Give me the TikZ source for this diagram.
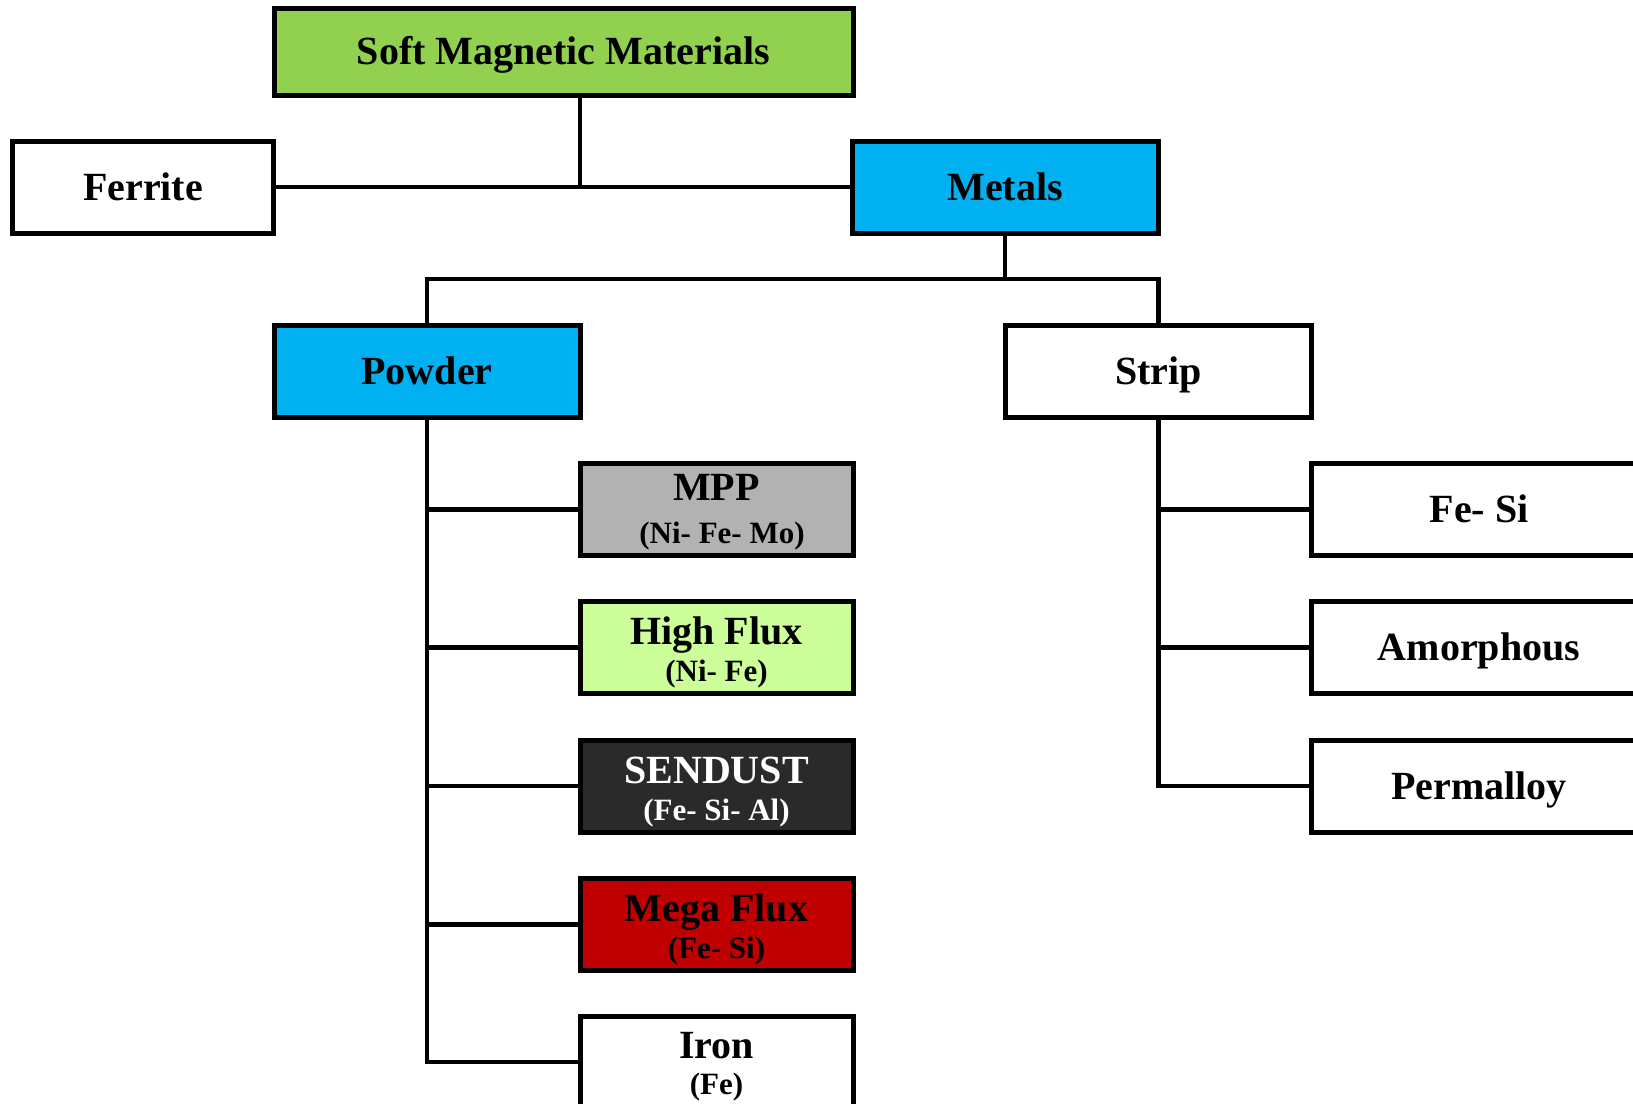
\documentclass[tikz,border=0pt]{standalone}
\usepackage{fontspec}
\setmainfont{Liberation Serif}
\begin{document}
\begin{tikzpicture}[x=1pt,y=-1pt,
  box/.style={draw=black,line width=5pt,inner sep=0pt,minimum height=92pt,
    font=\fontsize{40}{40}\selectfont\bfseries,text height=26pt,text depth=0pt},
  ttl/.style={anchor=base,inner sep=0pt,font=\fontsize{40}{40}\selectfont\bfseries},
  sub/.style={anchor=base,inner sep=0pt,font=\fontsize{31}{31}\selectfont\bfseries},
  conn/.style={line width=4.5pt,line cap=rect}]
\definecolor{smmgreen}{HTML}{92D050}
\definecolor{metblue}{HTML}{00B0F0}
\definecolor{mppgray}{HTML}{B2B2B2}
\definecolor{hfgreen}{HTML}{CCFF99}
\definecolor{sendark}{HTML}{2A2A2A}
\definecolor{mfred}{HTML}{C00000}
\useasboundingbox (0,0) rectangle (1633,1103);
\clip (0,0) rectangle (1633,1103);
% top
\node[box,fill=smmgreen,minimum width=579pt,minimum height=87pt] (smm) at (563.5,51.5) {Soft Magnetic Materials};
\node[box,fill=white,minimum width=261pt] (ferrite) at (143,187) {Ferrite};
\node[box,fill=metblue,minimum width=306pt] (metals) at (1005,187) {Metals};
\node[box,fill=metblue,minimum width=306pt] (powder) at (427,371.5) {Powder};
\node[box,fill=white,minimum width=306pt] (strip) at (1158.5,371.5) {Strip};
% powder children
\node[box,fill=mppgray,minimum width=273pt] (mpp) at (716.5,509.5) {};
\node[box,fill=hfgreen,minimum width=273pt] (hf) at (716.5,647.5) {};
\node[box,fill=sendark,minimum width=273pt] (send) at (716.5,786) {};
\node[box,fill=mfred,minimum width=273pt] (mf) at (716.5,924.5) {};
\node[box,fill=white,minimum width=273pt] (iron) at (716.5,1062) {};
\node[ttl] (mppT) at (716.5,500) {MPP};
\node[sub] (mppS) at (722,543) {(Ni- Fe- Mo)};
\node[ttl] (hfT) at (716.5,644) {High Flux};
\node[sub] (hfS) at (716.5,681) {(Ni- Fe)};
\node[ttl,text=white] (sendT) at (716.5,783) {SENDUST};
\node[sub,text=white] (sendS) at (716.5,820) {(Fe- Si- Al)};
\node[ttl] (mfT) at (716.5,921) {Mega Flux};
\node[sub] (mfS) at (716.5,958) {(Fe- Si)};
\node[ttl] (ironT) at (716.5,1058) {Iron};
\node[sub] (ironS) at (716.5,1094) {(Fe)};
% strip children
\node[box,fill=white,minimum width=336pt] (fesi) at (1479,509.5) {Fe- Si};
\node[box,fill=white,minimum width=336pt] (amor) at (1479,647.5) {Amorphous};
\node[box,fill=white,minimum width=336pt] (perm) at (1479,786) {Permalloy};
% connectors
\coordinate (j0) at (580,95);
\coordinate (j1) at (j0 |- ferrite.east);
\draw[conn] (j0) -- (j1);
\draw[conn] (ferrite.east) -- (metals.west);
\coordinate (j2) at (1005,279);
\draw[conn] (metals.south) -- (j2);
\draw[conn] (powder.north) -- (powder.north |- j2) -- (strip.north |- j2) -- (strip.north);
\draw[conn] (powder.south) -- (powder.south |- iron.west) -- (iron.west);
\draw[conn] (powder.south |- mpp.west) -- (mpp.west);
\draw[conn] (powder.south |- hf.west) -- (hf.west);
\draw[conn] (powder.south |- send.west) -- (send.west);
\draw[conn] (powder.south |- mf.west) -- (mf.west);
\draw[conn] (strip.south) -- (strip.south |- perm.west) -- (perm.west);
\draw[conn] (strip.south |- fesi.west) -- (fesi.west);
\draw[conn] (strip.south |- amor.west) -- (amor.west);
\end{tikzpicture}
\end{document}
